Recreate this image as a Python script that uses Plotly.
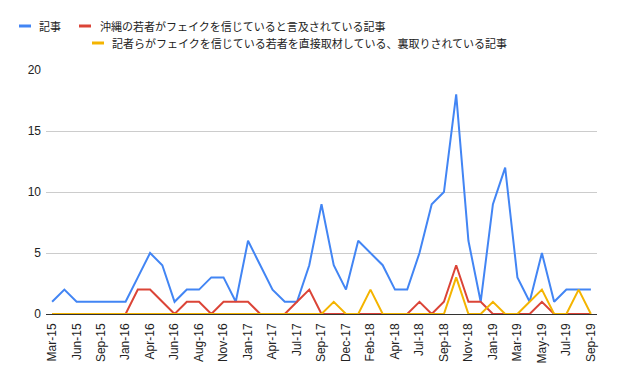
import plotly.graph_objects as go

categories = ["Mar-15", "Apr-15", "Jun-15", "Jul-15", "Sep-15", "Oct-15", "Jan-16", "Mar-16",
              "Apr-16", "May-16", "Jun-16", "Jul-16", "Aug-16", "Sep-16", "Nov-16", "Dec-16",
              "Jan-17", "Feb-17", "Apr-17", "Jun-17", "Jul-17", "Aug-17", "Sep-17", "Oct-17",
              "Dec-17", "Jan-18", "Feb-18", "Mar-18", "Apr-18", "May-18", "Jul-18", "Aug-18",
              "Sep-18", "Oct-18", "Nov-18", "Dec-18", "Jan-19", "Feb-19", "Mar-19", "Apr-19",
              "May-19", "Jun-19", "Jul-19", "Aug-19", "Sep-19"]

articles = [1, 2, 1, 1, 1, 1, 1, 3, 5, 4, 1, 2, 2, 3, 3, 1, 6, 4, 2, 1, 1, 4, 9, 4,
            2, 6, 5, 4, 2, 2, 5, 9, 10, 18, 6, 1, 9, 12, 3, 1, 5, 1, 2, 2, 2]
mention_fake = [0, 0, 0, 0, 0, 0, 0, 2, 2, 1, 0, 1, 1, 0, 1, 1, 1, 0, 0, 0, 1, 2, 0, 0,
                0, 0, 0, 0, 0, 0, 1, 0, 1, 4, 1, 1, 0, 0, 0, 0, 1, 0, 0, 0, 0]
interviewed = [0, 0, 0, 0, 0, 0, 0, 0, 0, 0, 0, 0, 0, 0, 0, 0, 0, 0, 0, 0, 0, 0, 0, 1,
               0, 0, 2, 0, 0, 0, 0, 0, 0, 3, 0, 0, 1, 0, 0, 1, 2, 0, 0, 2, 0]

names = ["記事", "沖縄の若者がフェイクを信じていると言及されている記事",
         "記者らがフェイクを信じている若者を直接取材している、裏取りされている記事"]
colors = ["#4285F4", "#DB4437", "#F4B400"]
tick_labels = categories[::2]

FONT = "Liberation Sans, Arial, Noto Sans CJK JP, sans-serif"

# the html page body has an 8px default margin; size the figure so that the
# plot lands where it is in the 617x381 reference
OFF = 8
PAGE_W, PAGE_H = 617, 381
W, H = PAGE_W - OFF, PAGE_H - OFF
# plot area in page pixels: x 46..597, y 70..314
ML, MR, MT, MB = 46 - OFF, PAGE_W - 597, 70 - OFF, PAGE_H - 314
PW, PH = W - ML - MR, H - MT - MB


def px_x(px):
    return (px - OFF - ML) / PW


def px_y(py):
    return (H - MB - (py - OFF)) / PH


fig = go.Figure()
for name, vals, col in zip(names, [articles, mention_fake, interviewed], colors):
    fig.add_trace(go.Scatter(x=categories, y=vals, mode="lines", name=name,
                             line=dict(color=col, width=2), showlegend=False))

# custom legend laid out like the reference (two rows), page pixel coords
legend_items = [  # (bar start px, text start px, row centre px)
    (19, 38, 26),
    (79, 99, 26),
    (92, 111, 43),
]
shapes = []
annotations = []
for (bx, tx, cy), name, col in zip(legend_items, names, colors):
    shapes.append(dict(type="line", xref="paper", yref="paper",
                       x0=px_x(bx), x1=px_x(bx + 12), y0=px_y(cy), y1=px_y(cy),
                       line=dict(color=col, width=3)))
    annotations.append(dict(xref="paper", yref="paper", x=px_x(tx), y=px_y(cy),
                            xanchor="left", yanchor="middle", showarrow=False,
                            text=name, borderpad=0,
                            font=dict(size=11, color="#222222",
                                      family="Noto Sans CJK JP, sans-serif")))

fig.update_layout(
    width=W, height=H,
    margin=dict(l=ML, r=MR, t=MT, b=MB, autoexpand=False),
    paper_bgcolor="white", plot_bgcolor="white",
    font=dict(family=FONT, size=12, color="#222222"),
    showlegend=False,
    shapes=shapes, annotations=annotations,
    xaxis=dict(type="category", tickmode="array", tickvals=tick_labels, ticktext=tick_labels,
               tickangle=-90, showgrid=False, showline=False, ticks="",
               ticklabelstandoff=6,
               tickfont=dict(size=12, color="#222222"), range=[-0.5, 44.5]),
    yaxis=dict(range=[0, 20], tickvals=[0, 5, 10, 15, 20], showgrid=True,
               gridcolor="#cccccc", gridwidth=1, zeroline=True, zerolinecolor="#333333",
               zerolinewidth=1, ticks="", ticklabelstandoff=4,
               tickfont=dict(size=12, color="#222222"), showline=False),
)

fig.write_html("out.html")
